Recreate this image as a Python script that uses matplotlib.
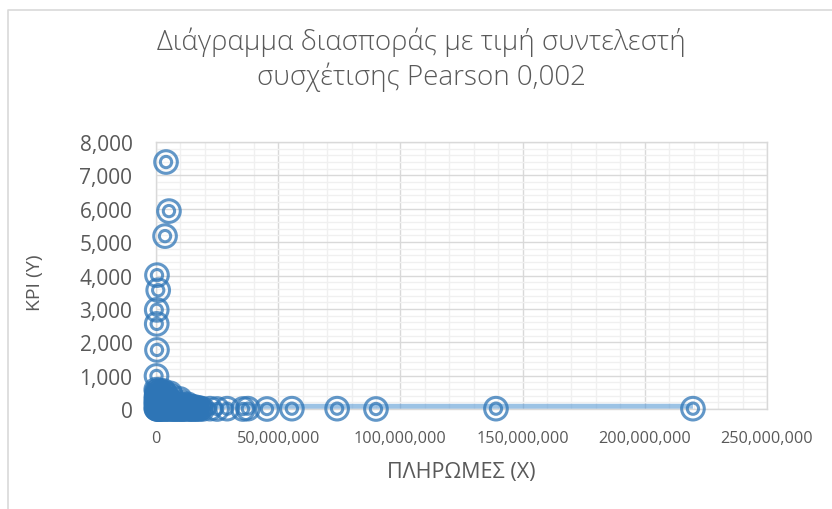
import matplotlib
matplotlib.use('Agg')
import matplotlib.pyplot as plt
from matplotlib.ticker import FuncFormatter, MultipleLocator
from matplotlib.lines import Line2D

plt.rcParams['font.family'] = ['Open Sans', 'DejaVu Sans']

# ---- data ----
TITLE_LINES = ["Διάγραμμα διασποράς με τιμή συντελεστή", "συσχέτισης Pearson 0,002"]
X_LABEL = "ΠΛΗΡΩΜΕΣ (X)"
Y_LABEL = "KPI (Y)"

# points with high KPI
high_x = [4.1e6, 5.3e6, 3.7e6, 0.4e6, 0.9e6, 0.3e6, 0.3e6, 0.4e6, 0.2e6]
high_y = [7400, 5930, 5180, 4010, 3560, 2970, 2550, 1770, 990]

# dense cluster near the origin
cluster_x = [0.1e6, 0.3e6, 0.5e6, 0.2e6, 0.7e6, 0.1e6, 0.4e6, 0.9e6, 0.2e6, 0.6e6, 0.3e6, 0.1e6, 0.8e6,
             1.2e6, 1.5e6, 1.9e6, 1.3e6, 2.2e6, 1.7e6, 2.5e6, 1.1e6, 2.0e6, 1.4e6, 2.3e6, 1.8e6,
             3.0e6, 3.6e6, 4.2e6, 3.3e6, 4.8e6, 2.8e6, 5.2e6, 3.9e6, 4.5e6, 3.1e6, 5.0e6, 4.1e6,
             5.8e6, 6.2e6, 5.5e6, 6.6e6, 6.0e6, 7.0e6, 5.7e6, 6.9e6,
             7.8e6, 8.5e6, 9.8e6, 9.2e6, 8.0e6, 10.5e6, 11.3e6, 12.0e6, 12.8e6, 13.5e6, 14.2e6,
             15.0e6, 15.8e6, 16.5e6, 17.3e6, 18.2e6, 19.0e6, 14.8e6, 11.0e6, 9.5e6, 7.5e6, 13.0e6, 10.0e6,
             0.2e6, 0.5e6, 0.9e6, 1.3e6, 1.6e6, 2.1e6, 2.6e6, 3.2e6, 3.7e6, 4.4e6, 4.9e6, 5.4e6,
             6.1e6, 6.7e6, 7.3e6, 7.9e6, 8.6e6, 9.1e6, 9.7e6, 10.3e6, 10.9e6, 11.6e6, 12.3e6, 13.1e6,
             13.8e6, 14.5e6, 15.3e6, 16.0e6, 16.8e6, 17.6e6,
             0.4e6, 0.8e6, 1.5e6, 2.4e6, 3.4e6, 4.6e6, 5.9e6, 7.2e6, 8.8e6, 10.1e6, 11.8e6, 13.4e6,
             0.1e6, 0.6e6, 1.0e6, 1.9e6, 2.7e6, 3.5e6, 4.3e6, 5.6e6, 6.4e6,
             0.3e6, 0.7e6, 1.2e6, 2.0e6, 2.9e6, 3.8e6, 4.7e6]
cluster_y = [580, 520, 460, 400, 350, 300, 250, 200, 150, 100, 60, 20, 0,
             560, 500, 430, 370, 320, 260, 210, 160, 110, 70, 30, 0,
             540, 480, 420, 360, 300, 250, 230, 180, 130, 90, 50, 10,
             470, 380, 290, 200, 140, 180, 80, 30,
             150, 120, 300, 90, 40, 100, 70, 110, 50, 20, 80,
             40, 60, 10, 30, 20, 0, 0, 0, 10, 0, 140, 200,
             10, 0, 20, 0, 10, 0, 20, 0, 10, 0, 20, 0,
             10, 0, 20, 0, 10, 0, 20, 0, 10, 0, 20, 0,
             10, 0, 20, 0, 10, 0,
             80, 90, 70, 80, 90, 70, 60, 70, 60, 50, 40, 50,
             180, 220, 190, 170, 200, 160, 150, 130, 110,
             320, 280, 330, 290, 310, 270, 250]

# tail of large payments with KPI near zero
tail_x = [22.1e6, 25.0e6, 29.1e6, 35.6e6, 37.6e6, 45.4e6, 55.6e6, 74.1e6, 90.0e6, 139.1e6, 219.7e6]
tail_y = [10, 0, 10, 0, 10, 0, 10, 10, 0, 10, 10]

# linear trendline (Excel), end values
trend_y = [80, 82]

# ---- figure ----
W, H = 832, 510
fig = plt.figure(figsize=(W / 100, H / 100), dpi=100)
fig.patch.set_facecolor('white')

# outer chart frame (left and top visible)
fig.add_artist(Line2D([8 / W, 8 / W, 1.0], [0.0, 1 - 11 / H, 1 - 11 / H],
                      transform=fig.transFigure, color='#d9d9d9', lw=1.2))

left, right, top, bottom = 156, 767, 143, 410
ax = fig.add_axes([left / W, 1 - bottom / H, (right - left) / W, (bottom - top) / H])

ax.set_xlim(0, 250e6)
ax.set_ylim(0, 8000)
ax.xaxis.set_major_locator(MultipleLocator(50e6))
ax.xaxis.set_minor_locator(MultipleLocator(10e6))
ax.yaxis.set_major_locator(MultipleLocator(1000))
ax.yaxis.set_minor_locator(MultipleLocator(200))
fmt = FuncFormatter(lambda v, p: f"{int(round(v)):,}")
ax.xaxis.set_major_formatter(fmt)
ax.yaxis.set_major_formatter(fmt)

ax.grid(which='major', color='#d9d9d9', lw=1.0)
ax.grid(which='minor', color='#f0f0f0', lw=1.0)
ax.set_axisbelow(True)
for s in ax.spines.values():
    s.set_color('#d9d9d9')
    s.set_linewidth(1.0)
ax.tick_params(which='both', length=0)
ax.tick_params(axis='x', labelsize=11.7, labelcolor='#595959', pad=15)
ax.tick_params(axis='y', labelsize=15, labelcolor='#595959', pad=17)

# trendline
all_x = high_x + cluster_x + tail_x
tx = [min(all_x), max(all_x)]
ax.plot(tx, trend_y, color='#5b9bd5', alpha=0.6, lw=3.6, solid_capstyle='butt', zorder=2)

# markers: outer ring + inner ring
col = '#2e75b6'
for xs, ys in ((cluster_x, cluster_y), (tail_x, tail_y), (high_x, high_y)):
    ax.scatter(xs, ys, s=265, facecolors='none', edgecolors=col, linewidths=2.2,
               alpha=0.75, clip_on=False, zorder=3)
    ax.scatter(xs, ys, s=66, facecolors='none', edgecolors=col, linewidths=2.2,
               alpha=0.75, clip_on=False, zorder=3)

# title
fig.text(421 / W, 1 - 42 / H, TITLE_LINES[0], ha='center', va='center',
         fontsize=20, color='#595959', fontweight='light')
fig.text(421 / W, 1 - 77 / H, TITLE_LINES[1], ha='center', va='center',
         fontsize=20, color='#595959', fontweight='light')

# axis titles
fig.text(461 / W, 1 - 473 / H, X_LABEL, ha='center', va='center', fontsize=15.5, color='#595959')
fig.text(35 / W, 1 - 283 / H, Y_LABEL, ha='center', va='center', rotation=90,
         fontsize=14, color='#595959')

fig.savefig('out.png', dpi=100)
